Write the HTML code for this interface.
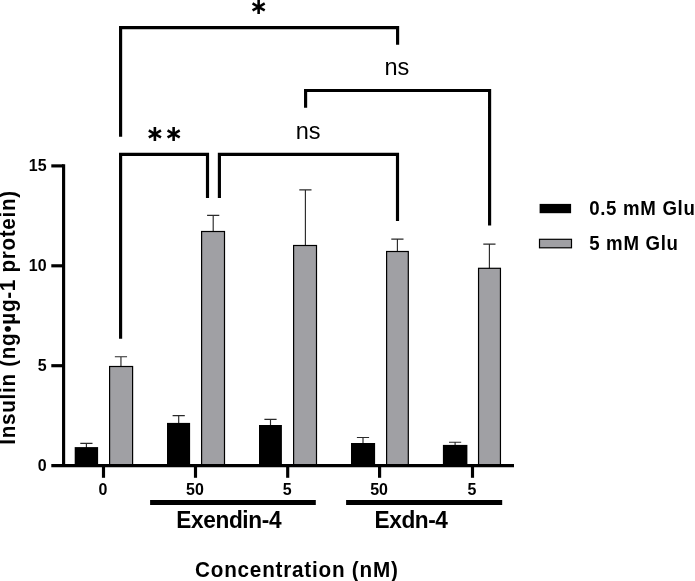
<!DOCTYPE html>
<html lang="en">
<head>
<meta charset="utf-8">
<title>Insulin secretion chart</title>
<style>
html,body{margin:0;padding:0;background:#fff;}
body{width:695px;height:581px;overflow:hidden;}
svg{display:block;}
text{font-family:"Liberation Sans",sans-serif;fill:#000;}
.tick{font-weight:bold;font-size:16px;}
.ast{font-family:"DejaVu Sans","Liberation Sans",sans-serif;font-weight:bold;font-size:22.4px;}
.ns{font-size:23.5px;}
.grp{font-weight:bold;font-size:22.67px;}
.ttl{font-weight:bold;font-size:20.7px;}
.leg{font-weight:bold;font-size:18.67px;}
</style>
</head>
<body>
<svg width="695" height="581" viewBox="0 0 695 581">
<rect x="0" y="0" width="695" height="581" fill="#ffffff"/>

<g id="bars">
<path d="M86.40 448.10V443.40M80.30 443.40H92.50" stroke="#2a2a2a" stroke-width="1.15" fill="none"/>
<path d="M120.95 366.90V356.70M114.85 356.70H127.05" stroke="#2a2a2a" stroke-width="1.15" fill="none"/>
<rect x="74.70" y="447.10" width="23.40" height="18.50" fill="#000"/>
<rect x="109.60" y="366.50" width="23.00" height="99.10" fill="#a0a0a4" stroke="#000" stroke-width="1.2"/>
<path d="M178.70 423.90V415.60M172.60 415.60H184.80" stroke="#2a2a2a" stroke-width="1.15" fill="none"/>
<path d="M213.20 231.90V215.40M207.10 215.40H219.30" stroke="#2a2a2a" stroke-width="1.15" fill="none"/>
<rect x="167.00" y="422.90" width="23.10" height="42.70" fill="#000"/>
<rect x="201.60" y="231.50" width="22.90" height="234.10" fill="#a0a0a4" stroke="#000" stroke-width="1.2"/>
<path d="M270.50 426.00V419.30M264.40 419.30H276.60" stroke="#2a2a2a" stroke-width="1.15" fill="none"/>
<path d="M305.40 245.90V189.80M299.30 189.80H311.50" stroke="#2a2a2a" stroke-width="1.15" fill="none"/>
<rect x="259.00" y="425.00" width="22.90" height="40.60" fill="#000"/>
<rect x="293.60" y="245.50" width="22.90" height="220.10" fill="#a0a0a4" stroke="#000" stroke-width="1.2"/>
<path d="M363.00 444.00V437.50M356.90 437.50H369.10" stroke="#2a2a2a" stroke-width="1.15" fill="none"/>
<path d="M397.40 251.90V239.05M391.30 239.05H403.50" stroke="#2a2a2a" stroke-width="1.15" fill="none"/>
<rect x="351.00" y="443.00" width="24.10" height="22.60" fill="#000"/>
<rect x="386.60" y="251.50" width="21.70" height="214.10" fill="#a0a0a4" stroke="#000" stroke-width="1.2"/>
<path d="M455.10 445.90V442.20M449.00 442.20H461.20" stroke="#2a2a2a" stroke-width="1.15" fill="none"/>
<path d="M489.40 268.70V244.05M483.30 244.05H495.50" stroke="#2a2a2a" stroke-width="1.15" fill="none"/>
<rect x="442.90" y="444.90" width="24.50" height="20.70" fill="#000"/>
<rect x="478.55" y="268.30" width="21.90" height="197.30" fill="#a0a0a4" stroke="#000" stroke-width="1.2"/>
</g>
<g id="axes" stroke="#000" stroke-width="3.15" fill="none">
<path d="M63.6 164.33V465.60"/>
<path d="M51.3 465.60H514"/>
<path d="M51.3 365.70H63.6"/>
<path d="M51.3 265.80H63.6"/>
<path d="M51.3 165.90H63.6"/>
<path d="M103.50 465.60V477.8"/>
<path d="M195.50 465.60V477.8"/>
<path d="M287.70 465.60V477.8"/>
<path d="M379.60 465.60V477.8"/>
<path d="M472.50 465.60V477.8"/>
</g>
<text class="tick" transform="translate(46.60 470.80) scale(1 1.04)" text-anchor="end">0</text>
<text class="tick" transform="translate(46.60 370.90) scale(1 1.04)" text-anchor="end">5</text>
<text class="tick" transform="translate(46.60 271.00) scale(1 1.04)" text-anchor="end">10</text>
<text class="tick" transform="translate(46.60 171.10) scale(1 1.04)" text-anchor="end">15</text>
<text class="tick" transform="translate(103.00 495.20) scale(1 1.04)" text-anchor="middle">0</text>
<text class="tick" transform="translate(195.00 495.20) scale(1 1.04)" text-anchor="middle">50</text>
<text class="tick" transform="translate(287.20 495.20) scale(1 1.04)" text-anchor="middle">5</text>
<text class="tick" transform="translate(379.10 495.20) scale(1 1.04)" text-anchor="middle">50</text>
<text class="tick" transform="translate(472.00 495.20) scale(1 1.04)" text-anchor="middle">5</text>
<path d="M150.1 502.4H315.8M346.1 502.4H502.2" stroke="#000" stroke-width="5" fill="none"/>
<text class="grp" transform="translate(228.70 528.00) scale(1 1.05)" text-anchor="middle" letter-spacing="-0.36">Exendin-4</text>
<text class="grp" transform="translate(411.00 528.00) scale(1 1.05)" text-anchor="middle" letter-spacing="-0.45">Exdn-4</text>
<text class="ttl" transform="translate(296.80 576.80) scale(1 1.04)" text-anchor="middle" letter-spacing="0.77">Concentration (nM)</text>
<text class="ttl" transform="translate(15.10 317.40) rotate(-90) scale(1 1.04)" text-anchor="middle" letter-spacing="0.68">Insulin (ng•µg-1 protein)</text>
<g id="sig" stroke="#000" stroke-width="3.15" fill="none" stroke-linejoin="miter">
<path d="M120.6 136.8V27.6H397.6V44.8"/>
<path d="M120.6 338.8V154.4H207.5V197.9"/>
<path d="M219.4 197.9V154.4H397.5V221"/>
<path d="M305.6 107.8V90.5H489.6V225.6"/>
</g>
<text class="ast" transform="translate(258.60 13.95)" text-anchor="middle">∗</text>
<text class="ast" transform="translate(164.30 141.00)" text-anchor="middle">∗∗</text>
<text class="ns" transform="translate(396.90 75.00)" text-anchor="middle">ns</text>
<text class="ns" transform="translate(308.10 138.80)" text-anchor="middle">ns</text>
<rect x="539.6" y="203.9" width="31.5" height="9.3" fill="#000"/>
<rect x="539.5" y="239.3" width="32.0" height="8.5" fill="#a0a0a4" stroke="#000" stroke-width="1.2"/>
<text class="leg" transform="translate(589.20 214.80) scale(1 1.05)" letter-spacing="0.68">0.5 mM Glu</text>
<text class="leg" transform="translate(589.20 249.80) scale(1 1.05)" letter-spacing="0.68">5 mM Glu</text>
</svg>
</body>
</html>
